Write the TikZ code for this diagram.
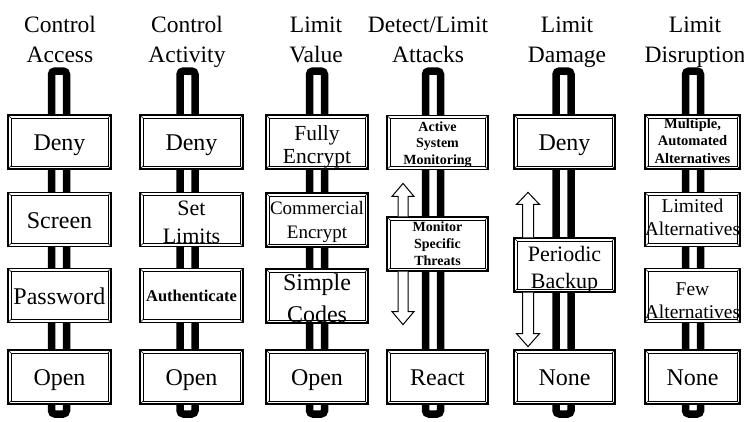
\documentclass[tikz,border=0pt]{standalone}
\usepackage{fontspec}
\setmainfont{Liberation Serif}
\newcommand\setfz[2]{\fontsize{#1}{#2}\selectfont}
\begin{document}
\begin{tikzpicture}[x=1pt,y=-1pt,
  post/.style={line width=7.5pt, rounded corners=3.5pt},
  box/.style={draw, line width=1.2pt, fill=white, inner sep=0pt, minimum height=54pt,
    path picture={
      \draw[line width=0.6pt] ([shift={(3.2pt,-3.2pt)}]path picture bounding box.north west) rectangle ([shift={(-3.2pt,3.2pt)}]path picture bounding box.south east);
      \draw[line width=0.5pt] (path picture bounding box.north west) -- ++(3.2pt,-3.2pt)
        (path picture bounding box.north east) -- ++(-3.2pt,-3.2pt)
        (path picture bounding box.south west) -- ++(3.2pt,3.2pt)
        (path picture bounding box.south east) -- ++(-3.2pt,3.2pt);}},
  txt/.style={inner sep=0pt, align=center, anchor=base},
  blk/.style={draw, line width=1pt, fill=white, line join=miter}]
\useasboundingbox (0,0) rectangle (744,421);

% titles
\begin{scope}[every node/.style={txt, font=\setfz{23.5}{30}}]
\node (h1) at (60,62) {Control\\Access};
\node (h2) at (187,62) {Control\\Activity};
\node (h3) at (316,62) {Limit\\Value};
\node (h4) at (428,62) {Detect/Limit\\Attacks};
\node (h5) at (567,62) {Limit\\Damage};
\node (h6) at (695,62) {Limit\\Disruption};
\end{scope}

% posts
\foreach \n/\x in {1/59,2/187.5,3/317,4/433,5/563.5,6/693}{
  \coordinate (p\n t) at (\x,71);
  \coordinate (p\n b) at (\x,414);
  \draw[post] ([xshift=-7.5pt]p\n t) rectangle ([xshift=7.5pt]p\n b);
}

% boxes
\begin{scope}[every node/.append style={box, minimum width=103pt}]
\node (b11) at (59.5,142) {};
\node (b12) at (59.5,219.5) {};
\node (b13) at (59.5,295.5) {};
\node (b14) at (59.5,377) {};
\node (b21) at (191.5,142) {};
\node (b22) at (191.5,219.5) {};
\node (b23) at (191.5,295.5) {};
\node (b24) at (191.5,377) {};
\end{scope}
\begin{scope}[every node/.append style={box, minimum width=102pt}]
\node (b31) at (317,142) {};
\node (b32) at (317,220) {};
\node (b33) at (317,296) {};
\node (b34) at (317,377) {};
\end{scope}
\begin{scope}[every node/.append style={box, minimum width=101pt}]
\node (b41) at (437.5,142.5) {};
\node (b42) at (437.5,244) {};
\node (b43) at (437.5,377) {};
\node (b51) at (564.5,142) {};
\node (b52) at (564.5,265) {};
\node (b53) at (564.5,377) {};
\end{scope}
\begin{scope}[every node/.append style={box, minimum width=95pt}]
\node (b61) at (692.5,142) {};
\node (b62) at (692.5,219.5) {};
\node (b63) at (692.5,295.5) {};
\node (b64) at (692.5,377) {};
\end{scope}

% texts
\begin{scope}[every node/.style={txt, font=\setfz{24}{30}}]
\node (t11) at (59.5,150) {Deny};
\node (t12) at (59.5,228) {Screen};
\node (t13) at (59.5,304) {Password};
\node (t14) at (59.5,385) {Open};
\node (t21) at (191.5,150) {Deny};
\node (t24) at (191.5,385) {Open};
\node (t34) at (317,385) {Open};
\node (t43) at (437.5,385) {React};
\node (t51) at (564.5,150) {Deny};
\node (t53) at (564.5,385) {None};
\node (t64) at (692.5,385) {None};
\node[font=\setfz{24}{32}] (t33) at (317,322) {Simple\\Codes};
\end{scope}
\node[txt, font=\setfz{22}{28}] (t22) at (191.5,243) {Set\\Limits};
\node[txt, font=\bfseries\setfz{16.5}{20}] (t23) at (191.5,301) {Authenticate};
\node[txt, font=\setfz{21.5}{23}] (t31) at (317,163) {Fully\\Encrypt};
\node[txt, font=\setfz{19}{24}] (t32) at (317,238) {Commercial\\Encrypt};
\node[txt, font=\bfseries\setfz{14}{16.5}] (t41) at (437.5,164) {Active\\System\\Monitoring};
\node[txt, font=\bfseries\setfz{14}{17}] (t42) at (437.5,265) {Monitor\\Specific\\Threats};
\node[txt, font=\setfz{22}{27}] (t52) at (564.5,288) {Periodic\\Backup};
\node[txt, font=\bfseries\setfz{14.5}{17.5}] (t61) at (692.5,163) {Multiple,\\Automated\\Alternatives};
\node[txt, font=\setfz{19.5}{23}] (t62) at (692.5,235) {Limited\\Alternatives};
\node[txt, font=\setfz{19.5}{23}] (t63) at (692.5,318) {Few\\Alternatives};

% block arrows
\draw[blk] ([xshift=-34.5pt]b42.north) ++(-5,0) -- ++(0,-20) -- ++(-6,0) -- ++(11,-13) -- ++(11,13) -- ++(-6,0) -- ++(0,20);
\draw[blk] ([xshift=-34.5pt]b42.south) ++(-5,0) -- ++(0,40) -- ++(-6,0) -- ++(11,13) -- ++(11,-13) -- ++(-6,0) -- ++(0,-40);
\draw[blk] ([xshift=-36.5pt]b52.north) ++(-5.5,0) -- ++(0,-33) -- ++(-6,0) -- ++(11.5,-12) -- ++(11.5,12) -- ++(-6,0) -- ++(0,33);
\draw[blk] ([xshift=-36.5pt]b52.south) ++(-5.5,0) -- ++(0,41) -- ++(-6,0) -- ++(11.5,13) -- ++(11.5,-13) -- ++(-6,0) -- ++(0,-41);
\end{tikzpicture}
\end{document}
